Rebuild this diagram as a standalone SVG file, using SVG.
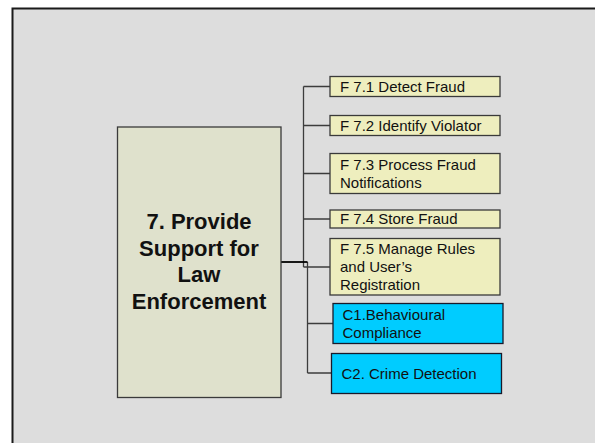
<svg xmlns="http://www.w3.org/2000/svg" width="595" height="443" viewBox="0 0 595 443">
<style>
.t{font-family:"Liberation Sans",Arial,sans-serif;font-size:15px;fill:#111}
.title{font-family:"Liberation Sans",Arial,sans-serif;font-size:22px;font-weight:bold;fill:#111;text-anchor:middle}
.f{fill:#eeeebe;stroke:#3a3a3a;stroke-width:1.3}
.c{fill:#00ccff;stroke:#1a1a2a;stroke-width:1.3}
.ln{stroke:#3c3c3c;stroke-width:1.3;fill:none}
</style>
<rect x="0" y="0" width="595" height="443" fill="#ffffff"/>
<rect x="12.5" y="8.5" width="600" height="450" fill="#dddddd" stroke="#1a1a1a" stroke-width="2"/>
<g id="connectors">
<path class="ln" d="M303.5 86.5V267M303.5 86.5H330M303.5 125.5H330M303.5 173.5H330M303.5 219H330M303.5 267H330"/>
<path class="ln" d="M307.5 262V373M307.5 323.5H333M307.5 373H331"/>
<path d="M281 262H307.5" stroke="#000" stroke-width="1.8" fill="none"/>
</g>
<g id="main">
<rect x="117.5" y="127" width="163.5" height="270.5" fill="#dfe1cc" stroke="#3a3a3a" stroke-width="1.3"/>
<text class="title"><tspan x="199" y="228.5">7. Provide</tspan><tspan x="199" y="255.5">Support for</tspan><tspan x="199" y="282">Law</tspan><tspan x="199" y="308.5">Enforcement</tspan></text>
</g>
<g id="f71">
<rect class="f" x="330" y="76.5" width="170" height="20"/>
<text class="t" x="340" y="91.5">F 7.1 Detect Fraud</text>
</g>
<g id="f72">
<rect class="f" x="330" y="115.5" width="170" height="20"/>
<text class="t" x="340" y="130.5">F 7.2 Identify Violator</text>
</g>
<g id="f73">
<rect class="f" x="330" y="153.5" width="170" height="40"/>
<text class="t"><tspan x="340" y="170">F 7.3 Process Fraud</tspan><tspan x="340" y="187.5">Notifications</tspan></text>
</g>
<g id="f74">
<rect class="f" x="330" y="210" width="170" height="18"/>
<text class="t" x="340" y="224">F 7.4 Store Fraud</text>
</g>
<g id="f75">
<rect class="f" x="330" y="238.5" width="170" height="56.5"/>
<text class="t"><tspan x="340" y="254">F 7.5 Manage Rules</tspan><tspan x="340" y="271.5">and User’s</tspan><tspan x="340" y="289.5">Registration</tspan></text>
</g>
<g id="c1">
<rect class="c" x="333" y="303.5" width="170" height="40"/>
<text class="t"><tspan x="342.5" y="319.5">C1.Behavioural</tspan><tspan x="342.5" y="337.5">Compliance</tspan></text>
</g>
<g id="c2">
<rect class="c" x="331.5" y="353.5" width="170" height="40"/>
<text class="t" x="341.5" y="378.5">C2. Crime Detection</text>
</g>
</svg>
